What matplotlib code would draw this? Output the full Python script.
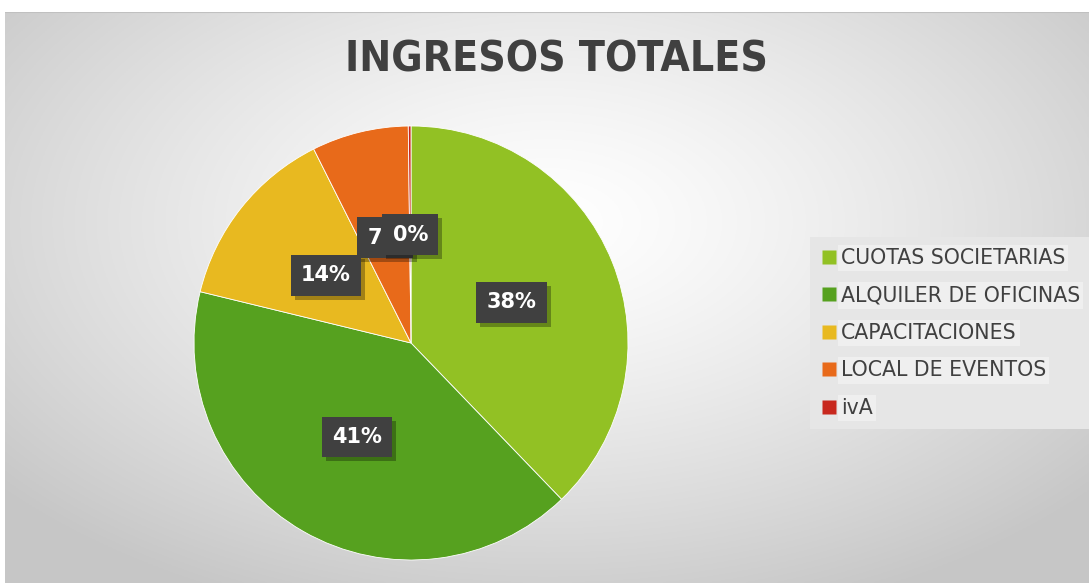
import numpy as np
import matplotlib.pyplot as plt
from matplotlib.lines import Line2D
from matplotlib.patches import Rectangle

# Data
categorias = ["CUOTAS SOCIETARIAS", "ALQUILER DE OFICINAS", "CAPACITACIONES",
              "LOCAL DE EVENTOS", "ivA"]
valores = [37.8, 41.0, 13.8, 7.2, 0.2]
colores = ["#92c124", "#56a11f", "#e8b920", "#e86a1a", "#c8281e"]
titulo = "INGRESOS TOTALES"

W, H = 1089, 583
fig = plt.figure(figsize=(W / 100, H / 100), dpi=100)
fig.patch.set_facecolor("white")

# background panel with radial gradient
bg = fig.add_axes([5 / W, 0, 1 - 5 / W, (H - 12) / H])
yy, xx = np.mgrid[0:300, 0:600]
cx, cy = 300, 110
r = np.sqrt(((xx - cx) / 600) ** 2 + ((yy - cy) / 330) ** 2)
g = np.clip(1.0 - 0.38 * r ** 1.3, 0.78, 1.0)
bg.imshow(np.dstack([g, g, g]), aspect="auto", extent=[0, 1, 0, 1], origin="upper")
bg.set_xlim(0, 1)
bg.set_ylim(0, 1)
bg.axis("off")
bg.plot([0, 1], [1, 1], color="#c0c0c0", lw=1.5, transform=bg.transAxes)

# pie
R = 217
cxp, cyp = 411, H - 343
ax = fig.add_axes([(cxp - R) / W, (cyp - R) / H, 2 * R / W, 2 * R / H])
wedges, texts, autotexts = ax.pie(
    valores, colors=colores, startangle=90, counterclock=False,
    autopct=lambda p: f"{p:.0f}%", pctdistance=0.5,
    wedgeprops=dict(edgecolor="white", linewidth=0.6),
)
ax.set_xlim(-1, 1)
ax.set_ylim(-1, 1)

for i, t in enumerate(autotexts):
    t.set_fontsize(15)
    t.set_fontweight("bold")
    t.set_color("white")
    t.set_bbox(dict(boxstyle="square,pad=0.5", fc="#404040", ec="none"))
    t.set_zorder(5 + 2 * i)

# title, sized so its width matches the reference (~423 px)
tt = fig.text(556 / W, 1 - 60 / H, titulo, ha="center", va="center",
              fontsize=38, fontweight="bold", color="#404040", fontstretch="condensed")
rend = fig.canvas.get_renderer()
w = tt.get_window_extent(rend).width
tt.set_fontsize(38 * 423 / w)

# drop shadows behind the label boxes
fig.canvas.draw()
for i, t in enumerate(autotexts):
    bb = t.get_bbox_patch().get_window_extent(rend)
    ax.add_patch(Rectangle((bb.x0 + 4, bb.y0 - 4), bb.width, bb.height,
                           transform=None, fc="black", ec="none", alpha=0.3,
                           zorder=4 + 2 * i))

handles = [Line2D([], [], marker="s", linestyle="none", markersize=10,
                  markerfacecolor=c, markeredgecolor="none") for c in colores]
leg = fig.legend(handles, categorias, loc="center left",
                 bbox_to_anchor=(810 / W, 1 - 333 / H), frameon=True,
                 prop=dict(size=14.8),
                 handletextpad=0.25, labelspacing=0.85, borderpad=0.55,
                 handlelength=0.7, borderaxespad=0)
leg.get_frame().set_facecolor("#e6e6e6")
leg.get_frame().set_edgecolor("none")
leg.get_frame().set_alpha(1)
leg.get_frame().set_boxstyle("square", pad=0)
for t in leg.get_texts():
    t.set_color("#404040")
    t.set_bbox(dict(boxstyle="square,pad=0.15", fc="#efefef", ec="none"))

fig.savefig("out.png", dpi=100)
